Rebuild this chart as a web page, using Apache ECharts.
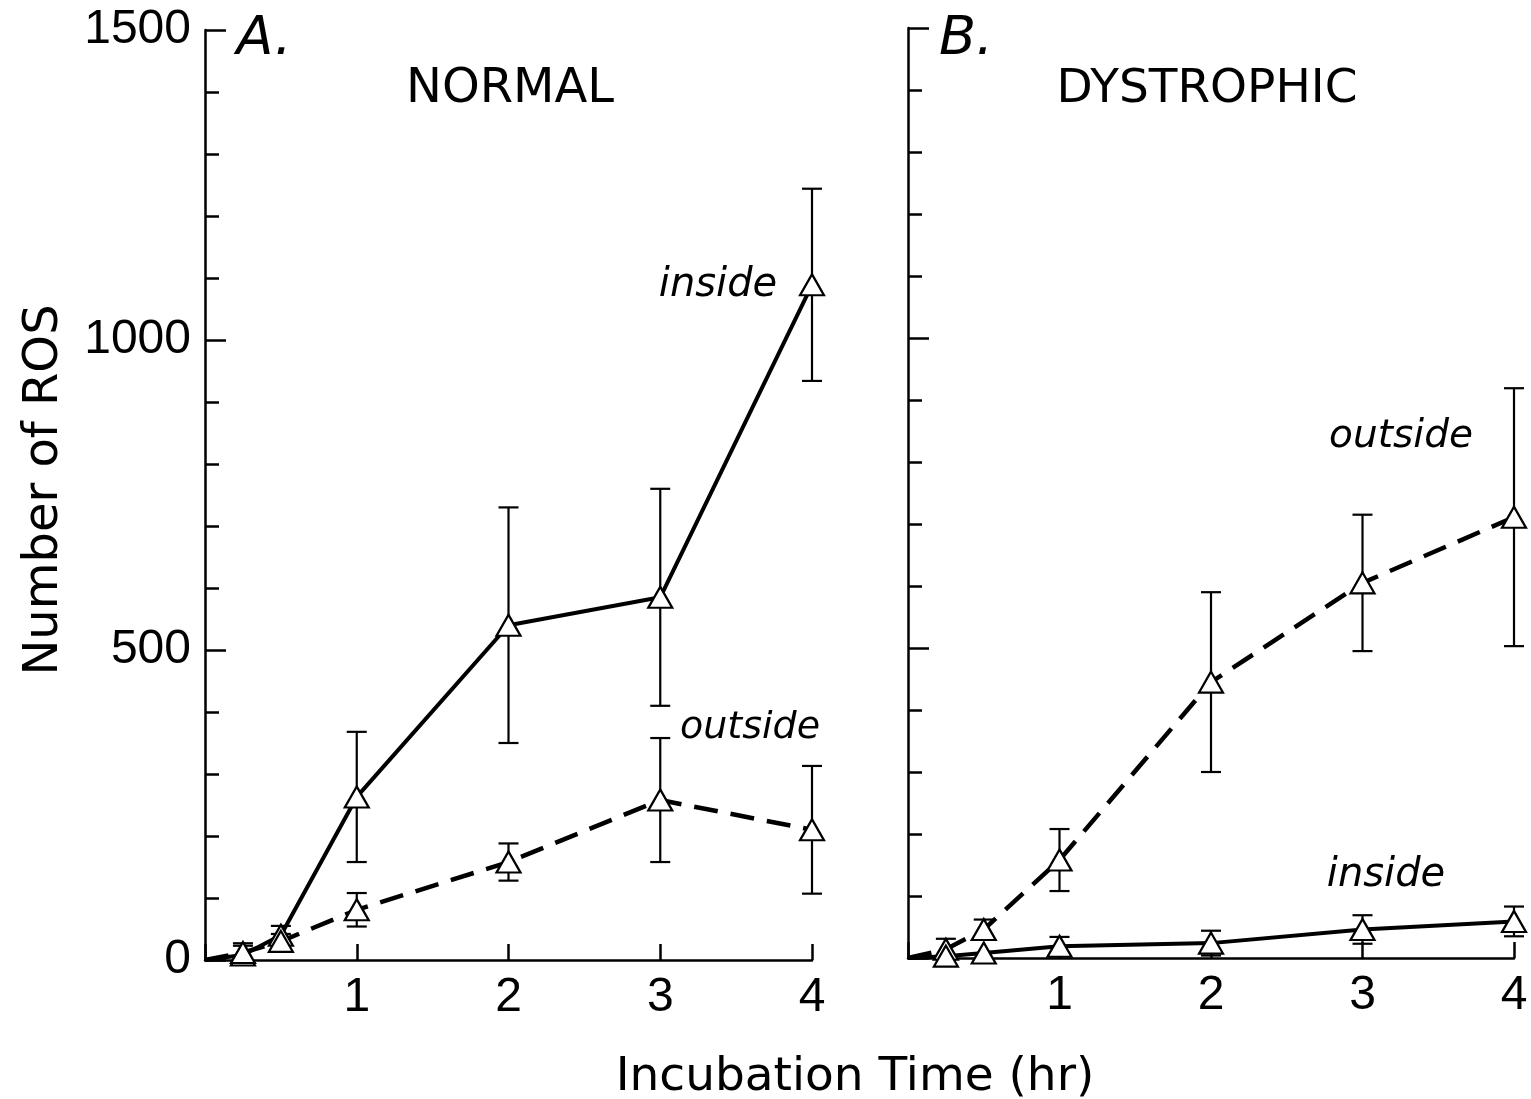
<!DOCTYPE html>
<html>
<head>
<meta charset="utf-8">
<title>Number of ROS</title>
<script src="https://cdn.jsdelivr.net/npm/echarts@6/dist/echarts.min.js"></script>
<style>
  html, body { margin: 0; padding: 0; background: #fff; }
  #chart { width: 1531px; height: 1099px; }
</style>
</head>
<body>
<div id="chart"></div>
<script>
// incubation time points (hr)
var hours = [0, 0.25, 0.5, 1, 2, 3, 4];

// A. normal
var normalInside = [0, 8, 40, 263, 540, 585, 1089];
var normalInsideErr = [0, 15, 15, 105, 190, 175, 155];
var normalOutside = [0, 12, 30, 81, 158, 258, 210];
var normalOutsideErr = [0, 15, 12, 27, 30, 100, 103];

// B. dystrophic
var dystOutside = [0, 14, 46, 158, 445, 605, 711];
var dystOutsideErr = [0, 17, 16, 50, 145, 110, 208];
var dystInside = [0, 3, 8, 19, 24, 46, 59];
var dystInsideErr = [0, 0, 0, 15, 20, 23, 24];

var yTicks = [0, 500, 1000, 1500];
var xTicks = [1, 2, 3, 4];

var FONT = 'DejaVu Sans';

function points(vals) {
	return hours.map(function (h, i) {
		var item = { value: [h, vals[i]] };
		if (h === 0) item.symbol = 'none';
		return item;
	});
}

function errData(vals, errs) {
	var out = [];
	hours.forEach(function (h, i) {
		if (errs[i] > 0) out.push([h, vals[i] - errs[i], vals[i] + errs[i]]);
	});
	return out;
}

function renderErr(params, api) {
	var x = api.value(0);
	var lo = api.coord([x, api.value(1)]);
	var hi = api.coord([x, api.value(2)]);
	var half = 10;
	var st = { stroke: '#000', lineWidth: 2.2 };
	return {
		type: 'group',
		children: [
			{ type: 'line', shape: { x1: lo[0], y1: lo[1], x2: hi[0], y2: hi[1] }, style: st },
			{ type: 'line', shape: { x1: hi[0] - half, y1: hi[1], x2: hi[0] + half, y2: hi[1] }, style: st },
			{ type: 'line', shape: { x1: lo[0] - half, y1: lo[1], x2: lo[0] + half, y2: lo[1] }, style: st }
		]
	};
}

function xAxisOf(grid) {
	return {
		type: 'value', gridIndex: grid, min: 0, max: 4, interval: 1,
		axisLine: { lineStyle: { color: '#000', width: 2.5 } },
		axisTick: { inside: true, length: 16, lineStyle: { color: '#000', width: 2.5 } },
		axisLabel: {
			margin: 14, color: '#000', fontFamily: 'Liberation Sans', fontSize: 48,
			formatter: function (v) { return xTicks.indexOf(v) >= 0 ? String(v) : ''; }
		},
		splitLine: { show: false }
	};
}

function yAxisOf(grid, labels) {
	return {
		type: 'value', gridIndex: grid, min: 0, max: 1500, interval: 500,
		axisLine: { show: true, lineStyle: { color: '#000', width: 2.5 } },
		axisTick: { show: true, inside: true, length: 21, lineStyle: { color: '#000', width: 2.5 } },
		minorTick: { show: true, splitNumber: 5, length: 14, lineStyle: { color: '#000', width: 2.5 } },
		axisLabel: {
			show: labels, margin: 14, color: '#000', fontFamily: 'Liberation Sans', fontSize: 48,
			formatter: function (v) { return yTicks.indexOf(v) >= 0 ? String(v) : ''; }
		},
		splitLine: { show: false }
	};
}

function lineSeries(grid, vals, dashed) {
	return {
		type: 'line', xAxisIndex: grid, yAxisIndex: grid,
		data: points(vals), z: 5,
		symbol: 'triangle', symbolSize: [24, 21],
		itemStyle: { color: '#fff', borderColor: '#000', borderWidth: 2.2 },
		lineStyle: dashed ? { color: '#000', width: 4.5, type: [24, 13] } : { color: '#000', width: 4 },
		animation: false
	};
}

function errSeries(grid, vals, errs) {
	return {
		type: 'custom', xAxisIndex: grid, yAxisIndex: grid,
		data: errData(vals, errs), renderItem: renderErr, z: 3,
		encode: { x: 0, y: [1, 2] }, clip: false, animation: false
	};
}

function label(text, x, y, size, opts) {
	opts = opts || {};
	return {
		type: 'text', x: x, y: y, rotation: opts.rotation || 0, z: 10,
		style: {
			text: text, fill: '#000', fontFamily: FONT, fontSize: size,
			fontStyle: opts.italic ? 'italic' : 'normal',
			align: 'center', verticalAlign: 'middle',
			textAlign: 'center', textVerticalAlign: 'middle'
		}
	};
}

var chart = echarts.init(document.getElementById('chart'));
chart.setOption({
	backgroundColor: '#fff',
	animation: false,
	grid: [
		{ left: 205, right: 719, top: 30, bottom: 139 },
		{ left: 908, right: 17, top: 28, bottom: 141 }
	],
	xAxis: [xAxisOf(0), xAxisOf(1)],
	yAxis: [yAxisOf(0, true), yAxisOf(1, false)],
	series: [
		errSeries(0, normalInside, normalInsideErr),
		errSeries(0, normalOutside, normalOutsideErr),
		lineSeries(0, normalInside, false),
		lineSeries(0, normalOutside, true),
		errSeries(1, dystOutside, dystOutsideErr),
		errSeries(1, dystInside, dystInsideErr),
		lineSeries(1, dystOutside, true),
		lineSeries(1, dystInside, false)
	],
	graphic: [
		label('A.', 264, 40, 54, { italic: true }),
		label('NORMAL', 510, 90, 48),
		label('B.', 966, 40, 54, { italic: true }),
		label('DYSTROPHIC', 1207, 90, 47),
		label('inside', 718, 286, 40, { italic: true }),
		label('outside', 750, 728, 38, { italic: true }),
		label('outside', 1401, 437, 39, { italic: true }),
		label('inside', 1386, 876, 40, { italic: true }),
		label('Number of ROS', 45, 490, 48, { rotation: Math.PI / 2 }),
		label('Incubation Time (hr)', 855, 1078, 47)
	]
});
</script>
</body>
</html>
